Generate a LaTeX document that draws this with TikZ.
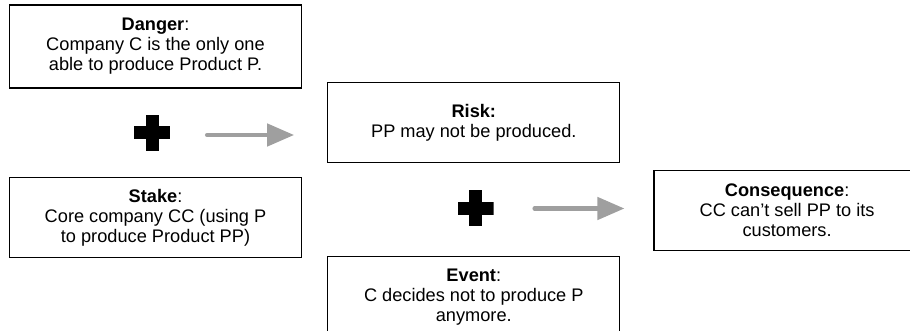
\documentclass[tikz,border=0pt]{standalone}
\usepackage{fontspec}
\setmainfont{Liberation Sans}
\usetikzlibrary{positioning,arrows.meta}

\begin{document}
\begin{tikzpicture}[x=1pt, y=1pt,
	box/.style = {rectangle, draw=black, line width=1.3pt, minimum width=292pt, minimum height=80pt, inner sep=0pt, align=center, font=\fontsize{18.2}{20}\selectfont},
	plus/.style = {minimum width=36pt, minimum height=36pt, inner sep=0pt, path picture={
		\fill (path picture bounding box.center) ++(-18pt,-6.5pt) rectangle ++(36pt,13pt);
		\fill (path picture bounding box.center) ++(-6.5pt,-18pt) rectangle ++(13pt,36pt);}},
	flow/.style = {draw=gray!75, line width=4.5pt, line cap=round, -{Triangle[length=27pt, width=22pt]}}]
	\useasboundingbox (0,0) rectangle (910,-331);
	\node (danger) [box, minimum height=83pt] at (155.5,-46.5) {\textbf{Danger}:\\Company C is the only one\\able to produce Product P.};
	\node (stake) [box, below = 88pt of danger] {\textbf{Stake}:\\Core company CC (using P\\to produce Product PP)};
	\node (risk) [box, right = 25pt of danger, yshift = -76pt] {\textbf{Risk:}\\PP may not be produced.};
	\node (event) [box, below = 93pt of risk] {\textbf{Event}:\\C decides not to produce P\\anymore.};
	\node (cons) [box, minimum width=266pt, right = 33pt of risk, yshift = -88pt] {\textbf{Consequence}:\\CC can’t sell PP to its\\customers.};
	\node (plusA) [plus] at (152,-133) {};
	\node (plusB) [plus] at (475.5,-208.5) {};
	\draw [flow] ([xshift=37pt, yshift=-2pt]plusA.east) -- ([xshift=-33pt, yshift=-2pt]plusA.east -| risk.west);
	\draw [flow] ([xshift=41pt]plusB.east) -- ([xshift=-29pt]plusB.east -| cons.west);
\end{tikzpicture}
\end{document}
